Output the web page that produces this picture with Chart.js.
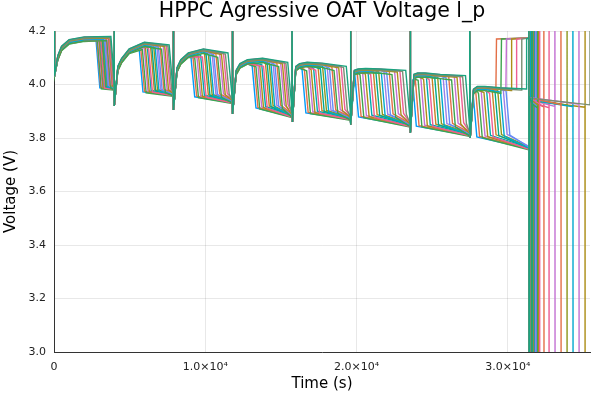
<!DOCTYPE html>
<html>
<head>
<meta charset="utf-8">
<script src="https://cdn.jsdelivr.net/npm/chart.js@4"></script>
<style>
  html, body { margin:0; padding:0; background:#fff; }
</style>
</head>
<body>
<canvas id="hppc" width="600" height="400"></canvas>
<script>
/* ---------- data ---------- */
const TITLE = 'HPPC Agressive OAT Voltage l_p';

// pulse (spike) times shared by every run, s
const cycleStart = [0, 3970, 7880, 11790, 15730, 19600, 23540, 27480];
const endPulse   = 31390;

// per cycle voltages, V
const pulseLowV   = [4.03, 3.92, 3.905, 3.89, 3.86, 3.85, 3.82, 3.80];
const riseDt      = [250, 500, 1000, 2000];            // s after the pulse
const riseAt250   = [4.10, 4.06, 4.055, 4.045, 4.06, 4.045, 4.03, 3.975];
const riseAt500   = [4.135, 4.09, 4.085, 4.07, 4.07, 4.05, 4.035, 3.985];
const riseAt1000  = [4.16, 4.125, 4.11, 4.085, 4.075, 4.052, 4.035, 3.985];
const riseAt2000  = [4.17, 4.15, 4.125, 4.09, 4.072, 4.05, 4.03, 3.98];
const plateauEndV = [4.172, 4.14, 4.11, 4.075, 4.06, 4.045, 4.025, 3.975];
const lowStartV   = [3.993, 3.978, 3.96, 3.918, 3.90, 3.885, 3.85, 3.81];
const lowEndV     = [3.988, 3.965, 3.938, 3.885, 3.875, 3.85, 3.815, 3.765];

// time each of the 20 runs starts its discharge drop, per cycle, s
const dropC0 = [2780, 2835, 2880, 2945, 2990, 3050, 3090, 3150, 3195, 3240, 3300, 3340, 3405, 3450, 3510, 3550, 3610, 3650, 3710, 3760];
const dropC1 = [5630, 5735, 5840, 5960, 6050, 6170, 6260, 6380, 6470, 6590, 6690, 6800, 6900, 7010, 7110, 7220, 7320, 7430, 7530, 7610];
const dropC2 = [9050, 9180, 9300, 9440, 9560, 9690, 9810, 9950, 10060, 10200, 10310, 10450, 10560, 10700, 10820, 10950, 11070, 11200, 11330, 11500];
const dropC3 = [13100, 13230, 13350, 13480, 13600, 13730, 13850, 13980, 14100, 14230, 14350, 14480, 14600, 14730, 14850, 14980, 15100, 15220, 15330, 15450];
const dropC4 = [16400, 16550, 16700, 16860, 17000, 17160, 17300, 17460, 17610, 17760, 17910, 18060, 18210, 18370, 18510, 18670, 18820, 18980, 19140, 19320];
const dropC5 = [19880, 20050, 20230, 20400, 20580, 20760, 20930, 21110, 21280, 21460, 21640, 21810, 21990, 22160, 22340, 22510, 22690, 22860, 23040, 23250];
const dropC6 = [23700, 23880, 24070, 24250, 24430, 24620, 24800, 24990, 25170, 25360, 25540, 25720, 25910, 26090, 26280, 26460, 26640, 26830, 27010, 27200];
const dropC7 = [27700, 27880, 28060, 28240, 28420, 28600, 28790, 28970, 29150, 29330, 29510, 29700, 29880, null, null, null, null, null, null, null];
// runs that jump back up to ~4.17 V in the last cycle instead of dropping
const jumpT  = [null, null, null, null, null, null, null, null, null, null, null, null, null, 29210, 29540, 29870, 30210, 30540, 30880, 31200];
const highBlockV = 4.17;
// end of each run (last full-height line), s
const endT   = [31480, 32380, 31550, 33110, 35100, 31420, 32720, 31680, 31750, 33910,
                34300, 31820, 31890, 33510, 31960, 34700, 32030, 32100, 35430, 31610];
const tailStartV = 3.945, tailEndV = 3.92;
// small level offset of each run, V
const levelShift = [-0.006, -0.004, -0.009, -0.002, -0.005, 0.000, -0.007, 0.002, -0.001, 0.003,
                    -0.003, 0.004, 0.001, 0.005, -0.008, 0.006, 0.002, 0.007, 0.004, 0.008];

const X_MAX = 35430;
const X_TICKS = [0, 10000, 20000, 30000];
const SPIKE_TOP = 4.35, SPIKE_BOTTOM = 2.9, DROP_LEN = 250;

const COLORS = ['#009AFA','#E36F47','#3EA44E','#C371D2','#AC8E18','#00A9AD','#ED5E93','#C68225','#00A98E',
                '#8E971D','#00A9CD','#9B7FE9','#618DF6','#E36F47','#3EA44E','#C371D2','#AC8E18','#ED5E93',
                '#7A8E72','#1BA37F'];

/* ---------- build the point list for one run ---------- */
const dropByCycle = [dropC0, dropC1, dropC2, dropC3, dropC4, dropC5, dropC6, dropC7];
const riseV = [riseAt250, riseAt500, riseAt1000, riseAt2000];

function buildRun(i) {
  const sh = levelShift[i];
  const pts = [];
  cycleStart.forEach((S, k) => {
    const next = k + 1 < cycleStart.length ? cycleStart[k + 1] : endPulse;
    pts.push({x:S, y:SPIKE_TOP}, {x:S + 30, y:pulseLowV[k]});
    const jump = k === cycleStart.length - 1 ? jumpT[i] : null;
    const stop = jump ?? dropByCycle[k][i];
    riseDt.forEach((dt, j) => {
      if (S + dt < stop - 60) pts.push({x:S + dt, y:riseV[j][k] + sh});
    });
    pts.push({x:stop, y:plateauEndV[k] + sh});
    if (jump) {
      pts.push({x:jump + 40, y:highBlockV}, {x:next, y:highBlockV + 0.004});
    } else {
      pts.push({x:stop + DROP_LEN, y:lowStartV[k] + sh}, {x:next, y:lowEndV[k] + sh});
    }
  });
  pts.push({x:endPulse, y:SPIKE_TOP}, {x:endPulse + 10, y:SPIKE_BOTTOM},
           {x:endPulse + 40, y:tailStartV + sh}, {x:endT[i], y:tailEndV + sh},
           {x:endT[i], y:SPIKE_TOP}, {x:endT[i] + 10, y:SPIKE_BOTTOM});
  return pts;
}

const datasets = levelShift.map((_, i) => ({
  label: 'run ' + (i + 1),
  data: buildRun(i),
  borderColor: COLORS[i % COLORS.length],
  borderWidth: 1.4,
  pointRadius: 0,
  fill: false,
  tension: 0
})).reverse();   // chart.js paints dataset 0 last, keep the last run on top

/* ---------- title centred on the plot area ---------- */
const plotTitle = {
  id: 'plotTitle',
  afterDraw(chart) {
    const {ctx, chartArea:a} = chart;
    ctx.save();
    ctx.font = '20.5px "DejaVu Sans"';
    ctx.fillStyle = '#000';
    ctx.textAlign = 'center';
    ctx.textBaseline = 'middle';
    ctx.fillText(TITLE, (a.left + a.right) / 2, 12);
    ctx.restore();
  }
};

Chart.defaults.font.family = '"DejaVu Sans", sans-serif';

new Chart(document.getElementById('hppc'), {
  type: 'line',
  data: { datasets },
  plugins: [plotTitle],
  options: {
    responsive: false,
    animation: false,
    parsing: false,
    layout: { padding: { top: 31, right: 10, left: 0, bottom: 0 } },
    plugins: { legend: { display:false }, tooltip: { enabled:false } },
    scales: {
      x: {
        type: 'linear', min: 0, max: X_MAX,
        afterBuildTicks(s) { s.ticks = X_TICKS.map(v => ({value: v})); },
        ticks: {
          maxRotation: 0, autoSkip: false,
          color: '#222', font: { size: 11 }, padding: 9,
          callback: v => v === 0 ? '0' : (v / 1e4).toFixed(1) + '×10⁴'
        },
        grid: { color: 'rgba(0,0,0,0.09)', drawTicks: false },
        border: { color: '#333' },
        title: { display: true, text: 'Time (s)', color: '#000', font: { size: 15 }, padding: { top: 0, bottom: 7 } },
        afterFit(s) { s.height = 48; }
      },
      y: {
        min: 3.0, max: 4.2,
        ticks: { stepSize: 0.2, color: '#222', font: { size: 11 }, padding: 8, callback: v => v.toFixed(1) },
        grid: { color: 'rgba(0,0,0,0.09)', drawTicks: false },
        border: { color: '#333' },
        title: { display: true, text: 'Voltage (V)', color: '#000', font: { size: 15 }, padding: 2 },
        afterFit(s) { s.width = 54; }
      }
    }
  }
});
</script>
</body>
</html>
